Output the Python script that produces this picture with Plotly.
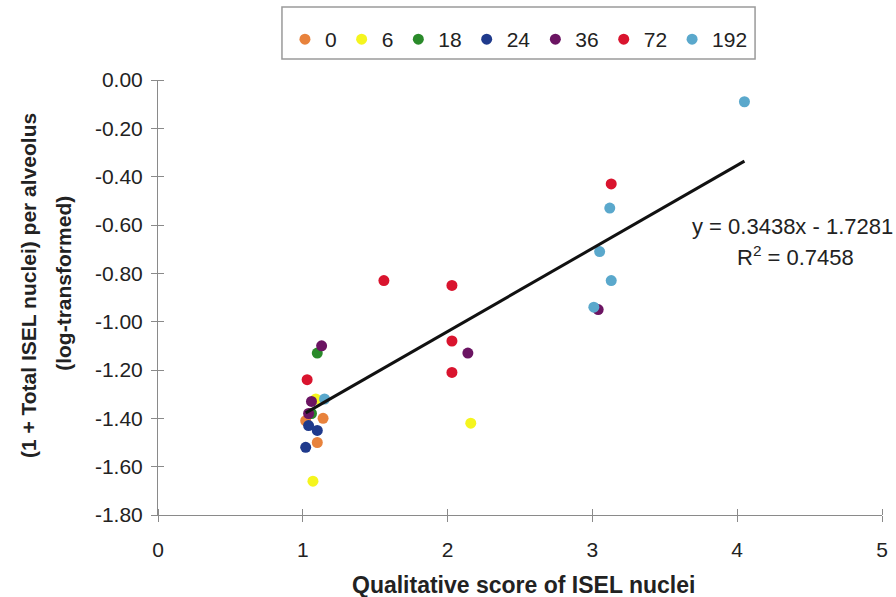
import plotly.graph_objects as go

# ---- data ----
groups = ["0", "6", "18", "24", "36", "72", "192"]
colors = ["#E8823C", "#F5F51E", "#2A8A2A", "#1F3A8C", "#6B1462", "#D9142E", "#5AA8CC"]

x_0 = [1.02, 1.14, 1.10]
y_0 = [-1.41, -1.40, -1.50]
x_6 = [1.09, 1.07, 2.16]
y_6 = [-1.32, -1.66, -1.42]
x_18 = [1.10, 1.06]
y_18 = [-1.13, -1.38]
x_24 = [1.04, 1.10, 1.02]
y_24 = [-1.43, -1.45, -1.52]
x_36 = [1.13, 1.06, 1.04, 2.14, 3.04]
y_36 = [-1.10, -1.33, -1.38, -1.13, -0.95]
x_72 = [1.03, 1.56, 2.03, 2.03, 2.03, 3.13]
y_72 = [-1.24, -0.83, -0.85, -1.08, -1.21, -0.43]
x_192 = [1.15, 4.05, 3.12, 3.05, 3.13, 3.01]
y_192 = [-1.32, -0.09, -0.53, -0.71, -0.83, -0.94]

slope = 0.3438
intercept = -1.7281
r2 = 0.7458

x_ticks = [0, 1, 2, 3, 4, 5]
x_tick_labels = ["0", "1", "2", "3", "4", "5"]
y_ticks = [0, -0.2, -0.4, -0.6, -0.8, -1.0, -1.2, -1.4, -1.6, -1.8]
y_tick_labels = ["0.00", "-0.20", "-0.40", "-0.60", "-0.80", "-1.00", "-1.20", "-1.40", "-1.60", "-1.80"]

xs = [x_0, x_6, x_18, x_24, x_36, x_72, x_192]
ys = [y_0, y_6, y_18, y_24, y_36, y_72, y_192]

FONT = "Liberation Sans, Arial, sans-serif"
TXT = "#222222"
AX = "#8a8a8a"

L, R, T, B = 158, 8, 80, 82
PW, PH = 896 - L - R, 597 - T - B

fig = go.Figure()
for name, col, xv, yv in zip(groups, colors, xs, ys):
    fig.add_trace(go.Scatter(
        x=xv, y=yv, mode="markers", name=name,
        marker=dict(color=col, size=11, line=dict(width=0)),
    ))

all_x = [v for xv in xs for v in xv]
x_lo, x_hi = min(all_x), max(all_x)
fig.add_trace(go.Scatter(
    x=[x_lo, x_hi], y=[slope * x_lo + intercept, slope * x_hi + intercept],
    mode="lines", line=dict(color="#111111", width=3), showlegend=False,
    hoverinfo="skip",
))


def px(xp):
    return (xp - L) / PW


def py(yp):
    return 1 - (yp - T) / PH


fig.update_layout(
    width=896, height=597,
    margin=dict(l=L, r=R, t=T, b=B),
    paper_bgcolor="white", plot_bgcolor="white",
    font=dict(family=FONT, color=TXT, size=20),
    showlegend=True,
    legend=dict(
        orientation="h", x=px(286), y=py(19), xanchor="left", yanchor="top",
        font=dict(size=21, color=TXT), borderwidth=0, bgcolor="rgba(0,0,0,0)",
        itemwidth=30,
    ),
    xaxis=dict(
        range=[0, 5], tickvals=x_ticks, ticktext=x_tick_labels,
        showgrid=False, zeroline=False, showline=True, linecolor=AX, linewidth=1,
        ticks="outside", ticklen=6, tickcolor=AX, tickwidth=1,
        minor=dict(tickvals=x_ticks, ticks="inside", ticklen=6, tickcolor=AX, tickwidth=1, showgrid=False),
        tickfont=dict(size=21, color=TXT), ticklabelstandoff=10,
    ),
    yaxis=dict(
        range=[-1.8, 0], tickvals=y_ticks, ticktext=y_tick_labels,
        showgrid=False, zeroline=False, showline=True, linecolor=AX, linewidth=1,
        ticks="outside", ticklen=6, tickcolor=AX, tickwidth=1,
        minor=dict(tickvals=y_ticks, ticks="inside", ticklen=6, tickcolor=AX, tickwidth=1, showgrid=False),
        tickfont=dict(size=21, color=TXT), ticklabelstandoff=4,
    ),
    shapes=[dict(type="rect", xref="paper", yref="paper",
                 x0=px(283), x1=px(760), y0=py(59), y1=py(7),
                 line=dict(color="#9a9a9a", width=1.5), fillcolor="rgba(0,0,0,0)")],
    annotations=[
        dict(text=f"y = {slope:.4f}x - {abs(intercept):.4f}", xref="paper", yref="paper",
             x=px(798), y=py(226), showarrow=False,
             font=dict(size=22, color=TXT), xanchor="center", yanchor="middle"),
        dict(text=f"R<sup>2</sup> = {r2:.4f}", xref="paper", yref="paper",
             x=px(801), y=py(256), showarrow=False,
             font=dict(size=22, color=TXT), xanchor="center", yanchor="middle"),
        dict(text="<b>Qualitative score of ISEL nuclei</b>", xref="paper", yref="paper",
             x=px(527), y=py(585), showarrow=False,
             font=dict(size=23, color=TXT), xanchor="center", yanchor="middle"),
        dict(text="<b>(1 + Total ISEL nuclei) per alveolus</b>", xref="paper", yref="paper",
             x=px(27), y=py(286), showarrow=False, textangle=-90,
             font=dict(size=21, color=TXT), xanchor="center", yanchor="middle"),
        dict(text="<b>(log-transformed)</b>", xref="paper", yref="paper",
             x=px(62), y=py(283), showarrow=False, textangle=-90,
             font=dict(size=21, color=TXT), xanchor="center", yanchor="middle"),
    ],
)

fig.write_html(
    "out.html",
    config={"displayModeBar": False},
    post_script="document.body.style.margin='0';document.body.style.overflow='hidden';",
)
